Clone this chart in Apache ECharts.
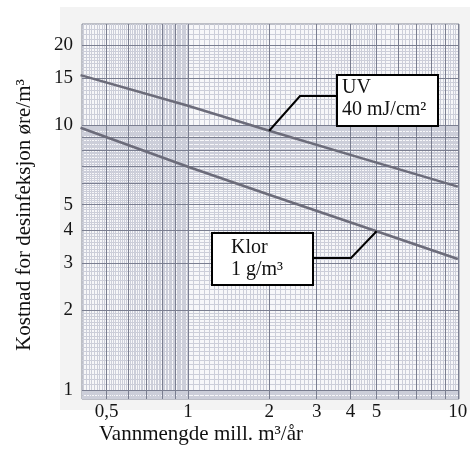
<!DOCTYPE html>
<html><head><meta charset="utf-8">
<script src="https://cdn.jsdelivr.net/npm/echarts@6/dist/echarts.min.js"></script>
<style>html,body{margin:0;padding:0;background:#fff}#c{width:470px;height:450px}</style>
</head><body><div id="c"></div>
<script>
// ---- data ----
const flow = [0.4, 1, 2, 5, 10];                 // Vannmengde mill. m3/år
const uvCost = [15.4, 11.8, 9.5, 7.2, 5.85];       // UV 40 mJ/cm2
const klorCost = [9.75, 6.95, 5.45, 3.97, 3.12];   // Klor 1 g/m3

// tick labels
const xTickValues = [0.5, 1, 2, 3, 4, 5, 10];
const xTickLabels = ['0,5', '1', '2', '3', '4', '5', '10'];
const yTickValues = [1, 2, 3, 4, 5, 10, 15, 20];
const yTickLabels = ['1', '2', '3', '4', '5', '10', '15', '20'];

// annotation anchor points on the curves
const uvAnchor = [2, 9.5];
const klorAnchor = [5, 3.97];

// graph paper lines
const xMajor = [0.5, 0.6, 0.7, 0.8, 0.9, 1, 2, 3, 4, 5, 6, 7, 8, 9, 10];
const xMinor = [0.41,0.42,0.43,0.44,0.45,0.46,0.47,0.48,0.49,
  0.51,0.52,0.53,0.54,0.55,0.56,0.57,0.58,0.59,
  0.61,0.62,0.63,0.64,0.65,0.66,0.67,0.68,0.69,
  0.71,0.72,0.73,0.74,0.75,0.76,0.77,0.78,0.79,
  0.81,0.82,0.83,0.84,0.85,0.86,0.87,0.88,0.89,
  0.91,0.92,0.93,0.94,0.95,0.96,0.97,0.98,0.99,
  1.05,1.1,1.15,1.2,1.25,1.3,1.35,1.4,1.45,1.5,1.55,1.6,1.65,1.7,1.75,1.8,1.85,1.9,1.95,
  2.1,2.2,2.3,2.4,2.5,2.6,2.7,2.8,2.9,
  3.1,3.2,3.3,3.4,3.5,3.6,3.7,3.8,3.9,
  4.1,4.2,4.3,4.4,4.5,4.6,4.7,4.8,4.9,
  5.2,5.4,5.6,5.8,6.2,6.4,6.6,6.8,7.2,7.4,7.6,7.8,8.2,8.4,8.6,8.8,9.2,9.4,9.6,9.8];
const yMajor = [1, 2, 3, 4, 5, 6, 7, 8, 9, 10, 15, 20];
const yMinor = [0.93,0.94,0.95,0.96,0.97,0.98,0.99,
  1.05,1.1,1.15,1.2,1.25,1.3,1.35,1.4,1.45,1.5,1.55,1.6,1.65,1.7,1.75,1.8,1.85,1.9,1.95,
  2.1,2.2,2.3,2.4,2.5,2.6,2.7,2.8,2.9,
  3.1,3.2,3.3,3.4,3.5,3.6,3.7,3.8,3.9,
  4.1,4.2,4.3,4.4,4.5,4.6,4.7,4.8,4.9,
  5.1,5.2,5.3,5.4,5.5,5.6,5.7,5.8,5.9,
  6.1,6.2,6.3,6.4,6.5,6.6,6.7,6.8,6.9,
  7.1,7.2,7.3,7.4,7.5,7.6,7.7,7.8,7.9,
  8.1,8.2,8.3,8.4,8.5,8.6,8.7,8.8,8.9,
  9.1,9.2,9.3,9.4,9.5,9.6,9.7,9.8,9.9,
  10.5,11,11.5,12,12.5,13,13.5,14,14.5,15.5,16,16.5,17,17.5,18,18.5,19,19.5,21,22,23];

const SERIF = '"Liberation Serif","Times New Roman",serif';
const chart = echarts.init(document.getElementById('c'), null, {renderer: 'canvas'});

function gridSeries(name, xs, ys, color, z) {
  return {
    name, type: 'line', data: [], silent: true, z,
    markLine: {
      silent: true, symbol: 'none', animation: false, precision: 4,
      label: {show: false}, emphasis: {disabled: true},
      lineStyle: {color, width: 1, type: 'solid'},
      data: xs.map(v => ({xAxis: v})).concat(ys.map(v => ({yAxis: v})))
    }
  };
}

chart.setOption({
  animation: false,
  grid: {left: 82, right: 11, top: 24, bottom: 51, show: true,
         backgroundColor: '#f7f7f9', borderColor: '#868a99', borderWidth: 1},
  xAxis: {type: 'log', logBase: 10, min: 0.405, max: 10.1,
          axisLine: {show: false}, axisTick: {show: false},
          axisLabel: {show: false}, splitLine: {show: false}, minorSplitLine: {show: false}},
  yAxis: {type: 'log', logBase: 10, min: 0.925, max: 24,
          axisLine: {show: false}, axisTick: {show: false},
          axisLabel: {show: false}, splitLine: {show: false}, minorSplitLine: {show: false}},
  series: [
    gridSeries('minor', xMinor, yMinor, '#ccced9', 1),
    gridSeries('major', xMajor, yMajor, '#7a7e90', 2),
    {
      name: 'xticks', type: 'line', data: [], silent: true, z: 3,
      markLine: {
        silent: true, symbol: 'none', animation: false, emphasis: {disabled: true},
        lineStyle: {color: 'rgba(0,0,0,0)', width: 0},
        label: {show: true, position: 'start', formatter: '{b}', distance: 4,
                fontFamily: SERIF, fontSize: 19, color: '#151515'},
        data: xTickValues.map((v, i) => ({xAxis: v, name: xTickLabels[i]}))
      }
    },
    {
      name: 'yticks', type: 'line', data: [], silent: true, z: 3,
      markLine: {
        silent: true, symbol: 'none', animation: false, emphasis: {disabled: true},
        lineStyle: {color: 'rgba(0,0,0,0)', width: 0},
        label: {show: true, position: 'start', formatter: '{b}', distance: 9,
                fontFamily: SERIF, fontSize: 19, color: '#151515'},
        data: yTickValues.map((v, i) => ({yAxis: v, name: yTickLabels[i]}))
      }
    },
    {
      name: 'UV', type: 'line', z: 5, symbol: 'none', silent: true,
      data: flow.map((x, i) => [x, uvCost[i]]),
      lineStyle: {color: '#6c6c7a', width: 2.5}
    },
    {
      name: 'Klor', type: 'line', z: 5, symbol: 'none', silent: true,
      data: flow.map((x, i) => [x, klorCost[i]]),
      lineStyle: {color: '#6c6c7a', width: 2.5}
    }
  ]
});

const uvP = chart.convertToPixel({xAxisIndex: 0, yAxisIndex: 0}, uvAnchor);
const klP = chart.convertToPixel({xAxisIndex: 0, yAxisIndex: 0}, klorAnchor);
const txt = (text, x, y, size, extra) => ({
  type: 'text', x, y, silent: true, z: 20,
  style: Object.assign({text, fontFamily: SERIF, fontSize: size, fill: '#111',
                        align: 'left', verticalAlign: 'middle'}, extra || {})
});

chart.setOption({
  graphic: {elements: [
    {type: 'rect', z: -100, silent: true, shape: {x: 60, y: 7, width: 410, height: 403},
     style: {fill: '#f3f3f3'}},
    // UV label
    {type: 'polyline', z: 15, silent: true,
     shape: {points: [[337, 96], [300, 96], uvP]}, style: {stroke: '#000', lineWidth: 2, fill: null}},
    {type: 'rect', z: 16, silent: true, shape: {x: 337, y: 75, width: 101, height: 51},
     style: {fill: '#fff', stroke: '#000', lineWidth: 2}},
    txt('UV', 342, 88, 20),
    txt('40 mJ/cm²', 342, 110, 20),
    // Klor label
    {type: 'polyline', z: 15, silent: true,
     shape: {points: [[313, 258], [351, 258], klP]}, style: {stroke: '#000', lineWidth: 2, fill: null}},
    {type: 'rect', z: 16, silent: true, shape: {x: 212, y: 233, width: 101, height: 52},
     style: {fill: '#fff', stroke: '#000', lineWidth: 2}},
    txt('Klor', 231, 248, 20),
    txt('1 g/m³', 231, 270, 20),
    // axis titles
    txt('Vannmengde mill. m³/år', 201, 434, 21, {align: 'center'}),
    {type: 'text', x: 24, y: 215, rotation: Math.PI / 2, silent: true, z: 20,
     style: {text: 'Kostnad for desinfeksjon øre/m³', fontFamily: SERIF, fontSize: 21,
             fill: '#111', align: 'center', verticalAlign: 'middle'}}
  ]}
});
</script></body></html>
